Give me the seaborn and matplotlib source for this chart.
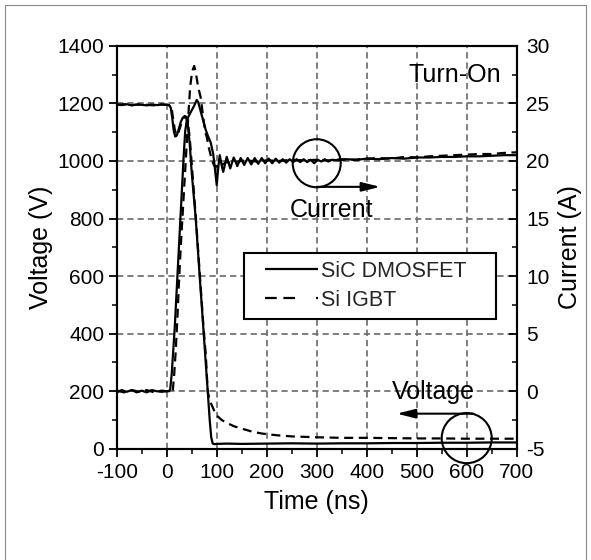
import numpy as np
import pandas as pd
import matplotlib
matplotlib.use("Agg")
import matplotlib.pyplot as plt
import seaborn as sns
from matplotlib.patches import Ellipse
from matplotlib.lines import Line2D
from matplotlib.ticker import MultipleLocator

# ---------------- data ----------------
sic_v_t = [-100, -90, -80, -70, -60, -50, -40, -30, -20, -10, 0, 5, 8, 11, 14, 17, 20, 24, 28, 32, 36,
           39, 42, 46, 50, 54, 58, 62, 66, 70, 74, 78, 82, 86, 89, 92, 96, 100, 120, 150, 200, 250,
           300, 350, 400, 450, 500, 550, 600, 650, 700]
sic_v = [1196, 1194, 1197, 1193, 1196, 1195, 1193, 1196, 1194, 1196, 1195, 1194, 1185, 1150, 1105, 1085,
         1088, 1110, 1135, 1150, 1156, 1150, 1128, 1060, 960, 880, 800, 700, 597, 500, 400, 300, 200,
         100, 40, 18, 16, 17, 18, 17, 18, 19, 18, 19, 19, 20, 20, 21, 21, 22, 22]

igbt_v_t = [-100, -85, -70, -55, -40, -25, -10, 0, 6, 10, 13, 16, 19, 22, 26, 30, 34, 38, 42, 46, 50,
            54, 58, 62, 66, 70, 74, 78, 82, 86, 90, 95, 100, 110, 120, 135, 150, 170, 190, 220, 250,
            300, 350, 400, 450, 500, 550, 600, 650, 700]
igbt_v = [1195, 1197, 1194, 1196, 1195, 1193, 1196, 1195, 1193, 1180, 1145, 1110, 1090, 1092, 1112,
          1135, 1150, 1155, 1140, 1080, 990, 900, 810, 710, 610, 510, 410, 330, 200, 168, 152, 132,
          116, 100, 90, 78, 70, 60, 53, 47, 43, 40, 38, 38, 37, 36, 36, 35, 35, 35]

sic_i_t = [-100, -90, -80, -70, -60, -50, -40, -30, -20, -10, 0, 5, 7, 10, 13, 16, 19, 22, 25, 28, 31,
           34, 37, 40, 44, 50, 55, 60, 63, 68, 73, 78, 83, 88, 93, 96, 100, 103, 106, 110, 113, 117,
           120, 124, 127, 131, 134, 138, 141, 148, 155, 162, 169, 176, 183, 190, 197, 204, 211, 218,
           225, 232, 239, 246, 253, 260, 267, 274, 281, 288, 295, 302, 309, 316, 323, 330, 345, 360,
           380, 400, 425, 450, 475, 500, 525, 550, 575, 600, 625, 650, 675, 700]
sic_i = [-0.1, 0.1, -0.05, 0.1, -0.1, 0.05, -0.1, 0.1, 0.0, -0.05, 0.0, 0.0, 0.2, 1.5, 3.5, 5.5, 8.0,
         10.5, 13.0, 15.5, 18.0, 20.5, 22.6, 23.5, 23.9, 24.4, 24.8, 25.3, 25.1, 24.3, 23.5, 22.7,
         22.1, 21.6, 20.6, 19.5, 17.9, 19.4, 20.5, 19.6, 19.05, 19.8, 20.35, 19.8, 19.35, 19.9, 20.3,
         19.9, 19.55, 20.25, 19.65, 20.25, 19.7, 20.25, 19.75, 20.25, 19.8, 20.2, 19.8, 20.2, 19.85,
         20.15, 19.85, 20.15, 19.9, 20.15, 19.9, 20.15, 19.9, 20.1, 19.8, 20.1, 19.95, 20.15, 19.95,
         20.1, 20.05, 20.15, 20.1, 20.2, 20.15, 20.25, 20.2, 20.3, 20.3, 20.35, 20.35, 20.4, 20.4,
         20.45, 20.5, 20.5]

igbt_i_t = [-100, -85, -70, -55, -40, -25, -10, 0, 6, 12, 15, 18, 21, 24, 28, 32, 36, 40, 44, 47, 51,
            55, 58, 63, 68, 73, 77, 80, 84, 87, 91, 95, 100, 106, 112, 120, 130, 140, 160, 180, 200,
            225, 250, 275, 300, 325, 350, 375, 400, 425, 450, 475, 500, 525, 550, 575, 600, 625, 650,
            675, 700]
igbt_i = [0.05, -0.1, 0.1, -0.05, 0.1, -0.1, 0.05, 0.0, 0.05, 0.0, 1.5, 3.5, 6.0, 9.0, 12.5, 15.5,
          18.5, 21.5, 24.5, 26.5, 27.8, 28.25, 27.7, 26.4, 25.5, 23.8, 22.5, 22.1, 21.2, 20.65, 20.0,
          19.6, 19.5, 19.85, 19.7, 19.9, 19.8, 19.95, 20.05, 19.95, 20.05, 20.0, 20.1, 20.05, 20.1,
          20.05, 20.15, 20.1, 20.2, 20.25, 20.2, 20.35, 20.3, 20.4, 20.45, 20.5, 20.55, 20.6, 20.6,
          20.7, 20.75]

series_names = ["SiC DMOSFET", "Si IGBT"]
x_ticks = [-100, 0, 100, 200, 300, 400, 500, 600, 700]
v_ticks = [0, 200, 400, 600, 800, 1000, 1200, 1400]
i_ticks = [-5, 0, 5, 10, 15, 20, 25, 30]

# ---------------- style ----------------
sns.set_theme(style="white")
plt.rcParams["font.family"] = ["Liberation Sans", "DejaVu Sans"]
plt.rcParams["axes.unicode_minus"] = False
plt.rcParams["lines.scale_dashes"] = False

fig = plt.figure(figsize=(5.91, 5.60), dpi=100)
ax = fig.add_axes([0.1975, 0.1986, 0.6768, 0.7196])
ax2 = ax.twinx()

solid = "-"
dashed = (0, (6.5, 4.0))
lw = 1.6

df_sv = pd.DataFrame({"t": sic_v_t, "v": sic_v})
df_iv = pd.DataFrame({"t": igbt_v_t, "v": igbt_v})
df_si = pd.DataFrame({"t": sic_i_t, "i": sic_i})
df_ii = pd.DataFrame({"t": igbt_i_t, "i": igbt_i})

sns.lineplot(data=df_iv, x="t", y="v", ax=ax, color="black", lw=lw, linestyle=dashed,
             estimator=None, sort=False, zorder=3)
sns.lineplot(data=df_sv, x="t", y="v", ax=ax, color="black", lw=lw, linestyle=solid,
             estimator=None, sort=False, zorder=4)
sns.lineplot(data=df_ii, x="t", y="i", ax=ax2, color="black", lw=lw, linestyle=dashed,
             estimator=None, sort=False, zorder=3)
sns.lineplot(data=df_si, x="t", y="i", ax=ax2, color="black", lw=lw, linestyle=solid,
             estimator=None, sort=False, zorder=4)

ax.set_xlim(-100, 700)
ax.set_ylim(0, 1400)
ax2.set_ylim(-5, 30)
ax.set_xticks(x_ticks)
ax.set_yticks(v_ticks)
ax2.set_yticks(i_ticks)
ax.xaxis.set_minor_locator(MultipleLocator(50))
ax.yaxis.set_minor_locator(MultipleLocator(100))
ax2.yaxis.set_minor_locator(MultipleLocator(2.5))

tick_fs = 15
ax.tick_params(axis="x", which="major", direction="out", length=6, width=1.3, pad=4,
               labelsize=tick_fs, colors="black", bottom=True, top=False)
ax.tick_params(axis="x", which="minor", direction="out", length=3.5, width=1.3, bottom=True, top=False)
ax.tick_params(axis="y", which="major", direction="out", length=6, width=1.3, pad=3,
               labelsize=tick_fs, colors="black", left=True, right=False)
ax.tick_params(axis="y", which="minor", direction="out", length=3.5, width=1.3, left=True, right=False)
ax2.tick_params(axis="y", which="major", direction="in", length=6, width=1.3, pad=7,
                labelsize=tick_fs, colors="black", right=True, left=False)
ax2.tick_params(axis="y", which="minor", direction="in", length=3.5, width=1.3, right=True, left=False)
ax2.tick_params(axis="x", which="both", bottom=False, top=False)

for a in (ax, ax2):
    for s in a.spines.values():
        s.set_color("black")
        s.set_linewidth(1.5)

ax.grid(True, which="major", axis="both", color="#6e6e6e", linewidth=1.25,
        linestyle=(0, (4.5, 2.9)))
ax2.grid(False)
ax.set_axisbelow(True)

ax.set_xlabel("Time (ns)", fontsize=18, color="black", labelpad=6)
ax.set_ylabel("Voltage (V)", fontsize=18, color="black", labelpad=3)
ax2.set_ylabel("Current (A)", fontsize=18, color="black", labelpad=6)

# ---------------- annotations ----------------
ax.add_patch(Ellipse((300, 992), width=96, height=167, fill=False, ec="black", lw=1.5,
                     zorder=6, clip_on=False))
ax.add_patch(Ellipse((600, 37), width=100, height=174, fill=False, ec="black", lw=1.5,
                     zorder=6, clip_on=False))
arrow_style = dict(arrowstyle="-|>,head_length=1.0,head_width=0.25", color="black", lw=1.5,
                   mutation_scale=11, shrinkA=0, shrinkB=0)
ax.annotate("", xy=(427, 910), xytext=(300, 910), arrowprops=arrow_style, zorder=6)
ax.annotate("", xy=(460, 122), xytext=(613, 122), arrowprops=arrow_style, zorder=6)
ax.text(668, 1275, "Turn-On", fontsize=18, ha="right", va="baseline", color="black", zorder=6)
ax.text(247, 806, "Current", fontsize=18, ha="left", va="baseline", color="black", zorder=6)
ax.text(450, 174, "Voltage", fontsize=18, ha="left", va="baseline", color="black", zorder=6)

# ---------------- legend ----------------
h_solid = Line2D([], [], color="black", lw=lw, linestyle=(38.2, (38.2, 9.4)))
h_dash = Line2D([], [], color="black", lw=lw,
                linestyle=(38.4, (8.4, 4.8, 8.4, 15.1, 1.7, 9.4)))
leg = ax2.legend([h_solid, h_dash], series_names, loc="upper left",
                 bbox_to_anchor=(0.318, 0.3205, 0.6295, 0.1655), mode="expand",
                 borderaxespad=0, fontsize=15.5, handlelength=3.07, handletextpad=0.16,
                 labelspacing=0.38, borderpad=0.36, fancybox=False, framealpha=1,
                 edgecolor="black")
leg.get_frame().set_linewidth(1.5)
leg.set_zorder(10)

# figure border (left, top, right)
for xs, ys in (([5 / 591, 5 / 591], [0, 1 - 5 / 560]),
               ([5 / 591, 586 / 591], [1 - 5 / 560, 1 - 5 / 560]),
               ([586 / 591, 586 / 591], [0, 1 - 5 / 560])):
    fig.add_artist(Line2D(xs, ys, transform=fig.transFigure, color="#888888", lw=0.8))

fig.savefig("out.png", dpi=100, facecolor="white")
